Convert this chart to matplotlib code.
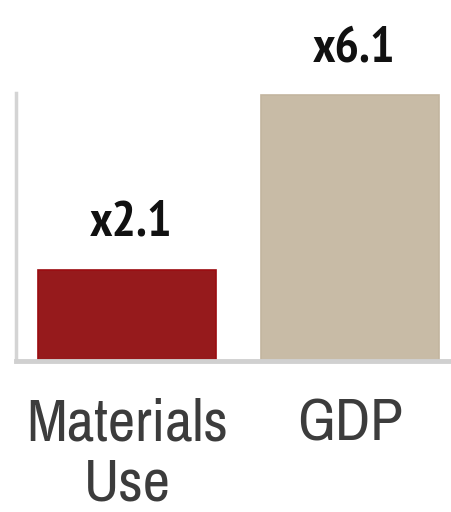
import matplotlib.pyplot as plt
from matplotlib import font_manager

# growth multiples, 1970-2010
categories = ['Materials\nUse', 'GDP']
multiples = [2.1, 6.1]
labels = ['x2.1', 'x6.1']
bar_colors = ['#961a1c', '#c8bba6']
edge_colors = ['#9b0c10', '#c3b59f']


def narrow_font(bold):
    # prefer a narrow face, then a condensed one, else plain DejaVu
    skip = ('italic', 'oblique', 'semi', 'extra', 'ultra', 'mono', 'serif')
    for key in ('narrow', 'condensed'):
        found = []
        for f in font_manager.fontManager.ttflist:
            fn = f.fname.lower().split('/')[-1]
            if key not in fn or any(s in fn for s in skip):
                continue
            if ('bold' in fn) == bold:
                found.append(f.fname)
        if found:
            return font_manager.FontProperties(fname=sorted(found)[0])
    return font_manager.FontProperties(family='DejaVu Sans',
                                       weight='bold' if bold else 'normal')


value_font = narrow_font(True)
tick_font = narrow_font(False)

fig = plt.figure(figsize=(4.52, 5.12), dpi=100)
ax = fig.add_axes([0.035, 0.295, 0.965, 0.523])

x = range(len(categories))
ax.bar(x, multiples, width=0.8, color=bar_colors, edgecolor=edge_colors, linewidth=1.2)

for xi, v, lab in zip(x, multiples, labels):
    t = ax.text(xi + 0.02, v + 0.78, lab, ha='center', va='baseline', color='#111111')
    t.set_fontproperties(value_font)
    t.set_fontsize(37)

ax.set_xlim(-0.5, 1.46)
ax.set_ylim(0, 6.15)
ax.set_yticks([])
ax.set_xticks(list(x))
ax.set_xticklabels(categories, color='#3c3c3c', linespacing=1.17)
for lab in ax.get_xticklabels():
    lab.set_fontproperties(tick_font)
    lab.set_fontsize(43)
ax.tick_params(axis='x', length=0, pad=26)

for side in ['top', 'right']:
    ax.spines[side].set_visible(False)
ax.spines['left'].set_color('#d4d4d4')
ax.spines['left'].set_linewidth(2.5)
ax.spines['bottom'].set_color('#d0d0d0')
ax.spines['bottom'].set_linewidth(3.5)

fig.savefig('out.png', dpi=100, facecolor='white')
